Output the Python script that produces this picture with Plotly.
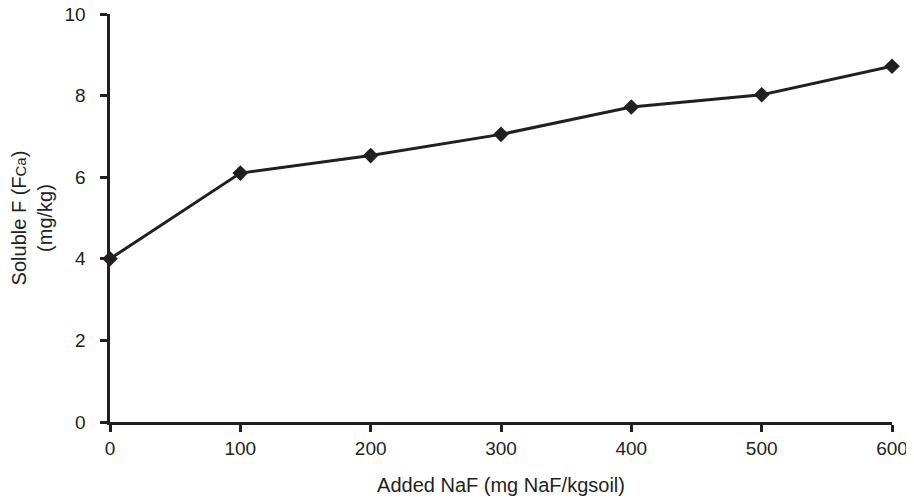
import plotly.graph_objects as go

added_naf = [0, 100, 200, 300, 400, 500, 600]
soluble_f = [4.0, 6.1, 6.53, 7.05, 7.72, 8.02, 8.72]

x_ticks = [0, 100, 200, 300, 400, 500, 600]
y_ticks = [0, 2, 4, 6, 8, 10]

ink = "#231f20"
fam = "Liberation Sans, Arial, sans-serif"
tick_font = dict(family=fam, size=19, color=ink)
title_font = dict(family=fam, size=20, color=ink)

fig = go.Figure()
fig.add_trace(go.Scatter(
    x=added_naf, y=soluble_f, mode="lines+markers",
    line=dict(color=ink, width=3),
    marker=dict(symbol="diamond", size=12, color=ink),
    showlegend=False, cliponaxis=False,
))

# page body has an 8px margin, so the figure is sized and offset to fit the window
fig.update_layout(
    width=906, height=494,
    margin=dict(l=102, r=22, t=6, b=80, autoexpand=False),
    paper_bgcolor="white", plot_bgcolor="white",
    font=dict(family=fam, size=19, color=ink),
)
fig.update_xaxes(
    range=[0, 600], tickvals=x_ticks, ticktext=[str(v) for v in x_ticks],
    showline=True, linecolor=ink, linewidth=3, showgrid=False, zeroline=False,
    ticks="outside", ticklen=7, tickwidth=2.5, tickcolor=ink,
    tickfont=tick_font, automargin=False, ticklabeloverflow="allow",
    title=dict(text="Added NaF (mg NaF/kgsoil)", standoff=21, font=title_font),
)
fig.update_yaxes(
    range=[0, 10], tickvals=y_ticks,
    ticktext=[str(v) + "\u00a0\u00a0" for v in y_ticks],
    showline=True, linecolor=ink, linewidth=3, showgrid=False, zeroline=False,
    ticks="outside", ticklen=7, tickwidth=2.5, tickcolor=ink,
    tickfont=tick_font, automargin=False, ticklabeloverflow="allow",
    title=dict(text='Soluble F (F<span style="font-size:15px">Ca</span>)<br>(mg/kg)',
               standoff=30, font=title_font),
)

fig.write_html("out.html")
